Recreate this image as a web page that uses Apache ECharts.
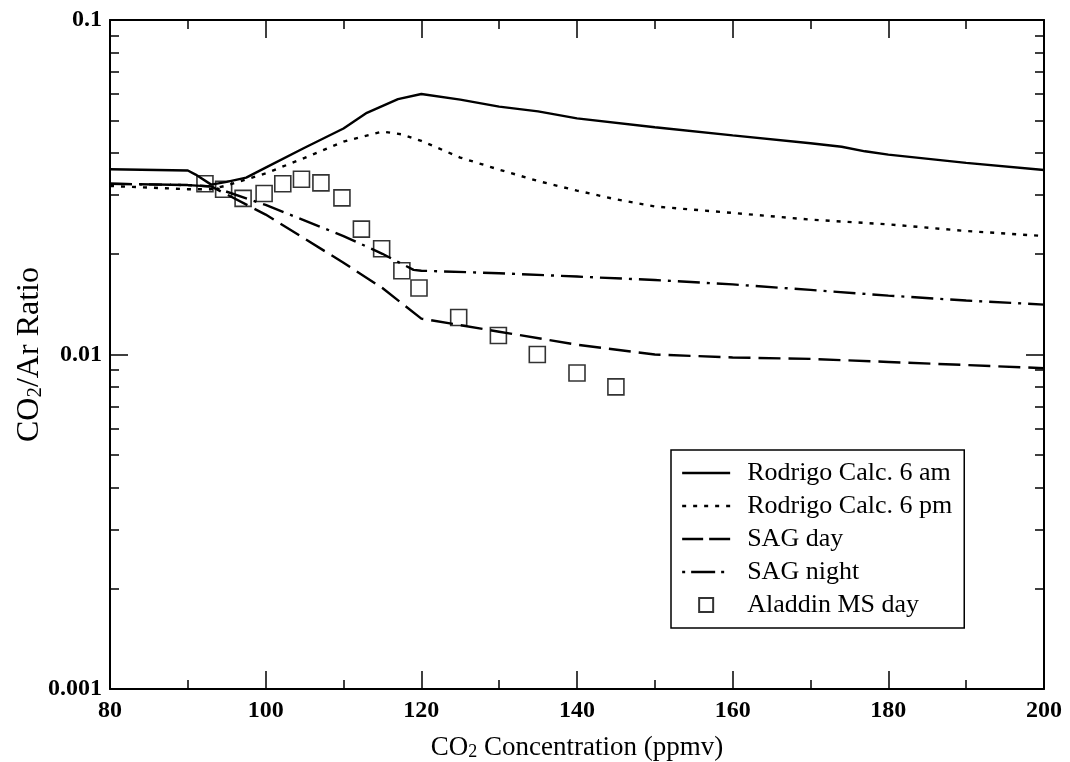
<!DOCTYPE html>
<html>
<head>
<meta charset="utf-8">
<script src="https://cdn.jsdelivr.net/npm/echarts@6/dist/echarts.min.js"></script>
<style>
  html, body { margin: 0; padding: 0; background: #fff; }
  #chart { width: 1070px; height: 762px; }
</style>
</head>
<body>
<div id="chart"></div>
<script>
// CO2 concentration (ppmv) vs CO2/Ar ratio
const am6X = [80, 90, 91, 93, 95, 97.5, 100, 105, 110, 113, 117, 120, 125, 130, 135, 140, 150, 160, 170, 174, 177, 180, 190, 200];
const am6Y = [0.0358, 0.0355, 0.0345, 0.0322, 0.0328, 0.0338, 0.0362, 0.0415, 0.0474, 0.0528, 0.058, 0.0601, 0.0578, 0.0551, 0.0533, 0.0508, 0.0478, 0.0452, 0.0428, 0.0418, 0.0405, 0.0396, 0.0374, 0.0356];

const pm6X = [80, 90, 93, 95, 100, 105, 110, 115, 117.5, 120, 125, 130, 135, 140, 145, 150, 160, 170, 180, 190, 200];
const pm6Y = [0.0319, 0.0312, 0.0312, 0.0320, 0.0348, 0.0387, 0.0433, 0.0464, 0.0455, 0.0435, 0.0388, 0.0357, 0.0330, 0.0309, 0.0291, 0.0277, 0.0265, 0.0253, 0.0245, 0.0234, 0.0226];

const sagDayX = [80, 90, 93, 100, 105, 110, 115, 120, 130, 140, 150, 160, 170, 180, 190, 200];
const sagDayY = [0.0324, 0.0321, 0.0318, 0.0262, 0.0222, 0.0188, 0.0158, 0.0128, 0.0117, 0.0107, 0.0100, 0.0098, 0.0097, 0.0095, 0.0093, 0.0091];

const sagNightX = [80, 90, 93, 100, 110, 115, 119, 120, 130, 140, 150, 160, 170, 180, 190, 200];
const sagNightY = [0.0324, 0.0321, 0.0318, 0.0280, 0.0226, 0.0200, 0.0179, 0.0178, 0.0175, 0.0171, 0.0167, 0.0162, 0.0156, 0.0150, 0.0145, 0.0141];

const msX = [92.2, 94.6, 97.1, 99.8, 102.2, 104.6, 107.1, 109.8, 112.3, 114.9, 117.5, 119.7, 124.8, 129.9, 134.9, 140, 145];
const msY = [0.0324, 0.0312, 0.0293, 0.0303, 0.0324, 0.0334, 0.0326, 0.0294, 0.0237, 0.0207, 0.0178, 0.0158, 0.0129, 0.0114, 0.0100, 0.0088, 0.0080];

const seriesNames = ['Rodrigo Calc. 6 am', 'Rodrigo Calc. 6 pm', 'SAG day', 'SAG night', 'Aladdin MS day'];

const yMajorTicks = [0.001, 0.01, 0.1];
const yMinorTicks = [0.002, 0.003, 0.004, 0.005, 0.006, 0.007, 0.008, 0.009,
                     0.02, 0.03, 0.04, 0.05, 0.06, 0.07, 0.08, 0.09];

const zip = (xs, ys) => xs.map((x, i) => [x, ys[i]]);

const FONT = 'Liberation Serif';
const INK = '#000';
const CLEAR = 'rgba(0,0,0,0)';

// dash patterns for the curves and their legend swatches
const DOTS = [4, 7];
const DASH = [22, 8];
const DASH_DOT = [22, 7, 3, 7];

const subStyle = size => ({
  fontFamily: FONT, fontSize: size, color: INK, verticalAlign: 'bottom',
  lineHeight: size + 2, padding: [Math.round(size * 0.6), 0, 0, 0]
});

function xAxisDef(pos, withLabels) {
  return {
    type: 'value', position: pos, min: 80, max: 200, interval: 20,
    axisLine: { show: true, onZero: false, lineStyle: { color: INK, width: 2 } },
    axisTick: { show: true, inside: true, length: 18, lineStyle: { color: INK, width: 1.5 } },
    minorTick: { show: true, splitNumber: 2, length: 9, lineStyle: { color: INK, width: 1.5 } },
    splitLine: { show: false },
    axisLabel: {
      show: withLabels, margin: 10, color: INK, fontFamily: FONT, fontSize: 24, fontWeight: 'bold'
    },
    name: withLabels ? 'CO{sub|2} Concentration (ppmv)' : '',
    nameLocation: 'middle', nameGap: 45,
    nameTextStyle: { fontFamily: FONT, fontSize: 27, color: INK, rich: { sub: subStyle(18) } }
  };
}

function yAxisDef(pos, major, withLabels) {
  return {
    type: 'log', logBase: 10, position: pos, min: 0.001, max: 0.1,
    axisLine: { show: major, onZero: false, lineStyle: { color: INK, width: 2 } },
    axisTick: {
      show: true, inside: true, length: major ? 18 : 9,
      customValues: major ? yMajorTicks : yMinorTicks,
      lineStyle: { color: INK, width: 1.5 }
    },
    splitLine: { show: false },
    axisLabel: {
      show: withLabels, margin: 8, color: INK, fontFamily: FONT, fontSize: 24, fontWeight: 'bold',
      formatter: v => String(+Number(v).toPrecision(3))
    },
    name: withLabels ? 'CO{sub|2}/Ar Ratio' : '',
    nameLocation: 'middle', nameGap: 64, nameRotate: 90, nameMoveOverlap: false,
    nameTextStyle: { fontFamily: FONT, fontSize: 32, color: INK, rich: { sub: subStyle(21) } }
  };
}

const lineSeries = (name, xs, ys, type) => ({
  name, type: 'line', xAxisIndex: 0, yAxisIndex: 0,
  data: zip(xs, ys), symbol: 'none', smooth: false,
  lineStyle: { color: INK, width: 2.4, type, cap: 'butt' },
  itemStyle: { color: INK },
  z: 3
});

// legend swatch: line only, no marker in the middle
const lineKey = (name, type) => ({
  name,
  itemStyle: { color: CLEAR, borderColor: CLEAR, borderWidth: 0 },
  lineStyle: { color: INK, width: 2.3, type }
});

const chart = echarts.init(document.getElementById('chart'), null, { renderer: 'canvas' });
chart.setOption({
  animation: false,
  backgroundColor: '#fff',
  grid: { left: 110, right: 26, top: 20, bottom: 73, containLabel: false, outerBoundsMode: 'none' },
  xAxis: [xAxisDef('bottom', true), xAxisDef('top', false)],
  yAxis: [
    yAxisDef('left', true, true),
    yAxisDef('left', false, false),
    yAxisDef('right', true, false),
    yAxisDef('right', false, false)
  ],
  legend: {
    orient: 'vertical', left: 671, top: 450,
    itemWidth: 48, itemHeight: 14, itemGap: 7,
    padding: [10, 12, 10, 10],
    borderColor: INK, borderWidth: 1.5, backgroundColor: '#fff',
    textStyle: { fontFamily: FONT, fontSize: 26, color: INK, lineHeight: 25, padding: [0, 0, 0, 12] },
    data: [
      lineKey(seriesNames[0], 'solid'),
      lineKey(seriesNames[1], DOTS),
      lineKey(seriesNames[2], [21, 6]),
      lineKey(seriesNames[3], [3, 6, 24, 6]),
      { name: seriesNames[4], icon: 'path://M0 0H10V10H0Z' }
    ]
  },
  series: [
    lineSeries(seriesNames[0], am6X, am6Y, 'solid'),
    lineSeries(seriesNames[1], pm6X, pm6Y, DOTS),
    lineSeries(seriesNames[2], sagDayX, sagDayY, DASH),
    lineSeries(seriesNames[3], sagNightX, sagNightY, DASH_DOT),
    {
      name: seriesNames[4], type: 'scatter', xAxisIndex: 0, yAxisIndex: 0,
      data: zip(msX, msY), symbol: 'rect', symbolSize: 16,
      itemStyle: { color: CLEAR, borderColor: INK, borderWidth: 1.6 },
      z: 4
    }
  ]
});
</script>
</body>
</html>
